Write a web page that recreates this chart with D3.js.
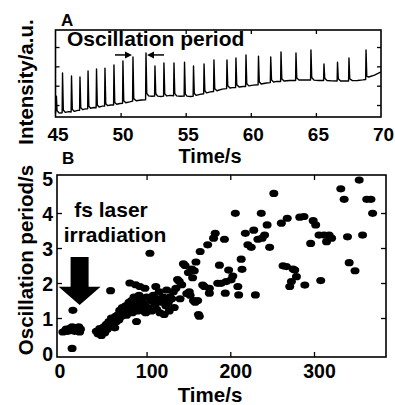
<!DOCTYPE html>
<html>
<head>
<meta charset="utf-8">
<script src="https://cdn.jsdelivr.net/npm/d3@7"></script>
<style>
  body { margin: 0; background: #fff; }
  svg { display: block; font-family: "Liberation Sans", Arial, sans-serif; font-weight: bold; }
</style>
</head>
<body>
<script>
// Panel A: intensity trace (time in s, intensity in a.u.)
const traceT = [
  45.00, 45.07, 45.12, 45.30,
  45.51, 45.54, 45.60, 45.75, 46.00,
  46.20, 46.23, 46.29, 46.45, 46.70,
  46.85, 46.88, 46.94, 47.10, 47.30,
  47.47, 47.50, 47.56, 47.70, 47.95,
  48.12, 48.15, 48.21, 48.35, 48.60,
  48.77, 48.80, 48.86, 49.00, 49.25,
  49.46, 49.49, 49.55, 49.70, 49.95,
  50.15, 50.18, 50.24, 50.40, 50.70,
  50.92, 50.95, 51.01, 51.20, 51.60,
  51.92, 51.95, 52.01, 52.15, 52.40,
  52.61, 52.64, 52.70, 52.85, 53.10,
  53.30, 53.33, 53.39, 53.55, 53.80,
  54.07, 54.10, 54.16, 54.30, 54.60,
  54.88, 54.91, 54.97, 55.10, 55.35,
  55.57, 55.60, 55.66, 55.80, 56.10,
  56.38, 56.41, 56.47, 56.60, 56.90,
  57.14, 57.17, 57.23, 57.40, 57.80,
  58.14, 58.17, 58.23, 58.40, 58.60,
  58.83, 58.86, 58.92, 59.10, 59.40,
  59.60, 59.63, 59.69, 59.85, 60.20,
  60.56, 60.59, 60.65, 60.80, 61.20,
  61.50, 61.53, 61.59, 61.75, 62.00,
  62.29, 62.32, 62.38, 62.55, 63.00,
  63.44, 63.47, 63.53, 63.70, 64.10,
  64.59, 64.62, 64.68, 64.85, 65.20,
  65.59, 65.62, 65.68, 65.85, 66.20,
  66.63, 66.66, 66.72, 66.90, 67.20,
  67.51, 67.54, 67.60, 67.80, 68.20, 68.60,
  68.82, 68.85, 68.91, 69.05, 69.50, 70.00
];
const traceV = [
  -0.42, 0.45, -0.30, -0.42,
  -0.40, 1.66, -0.26, -0.38, -0.34,
  -0.36, 1.50, -0.22, -0.33, -0.28,
  -0.27, 1.45, -0.14, -0.24, -0.20,
  -0.19, 1.76, -0.06, -0.17, -0.13,
  -0.14, 1.86, 0.00, -0.10, -0.06,
  -0.06, 1.91, 0.07, -0.03, 0.00,
  0.00, 2.07, 0.13, 0.04, 0.08,
  0.09, 2.28, 0.22, 0.12, 0.16,
  0.20, 2.48, 0.33, 0.22, 0.26,
  0.27, 2.69, 0.60, 0.47, 0.45,
  0.46, 2.02, 0.58, 0.46, 0.44,
  0.46, 2.17, 0.58, 0.47, 0.50,
  0.48, 2.17, 0.60, 0.47, 0.45,
  0.46, 2.22, 0.58, 0.46, 0.44,
  0.45, 2.02, 0.60, 0.50, 0.55,
  0.58, 2.12, 0.74, 0.63, 0.68,
  0.70, 2.33, 0.84, 0.74, 0.82,
  0.85, 2.33, 1.00, 0.88, 0.90,
  0.90, 2.43, 1.05, 0.93, 0.96,
  0.96, 2.59, 1.10, 0.99, 1.03,
  1.05, 2.53, 1.20, 1.09, 1.14,
  1.16, 2.48, 1.30, 1.19, 1.22,
  1.22, 2.74, 1.36, 1.24, 1.27,
  1.27, 2.69, 1.40, 1.29, 1.30,
  1.29, 2.85, 1.42, 1.29, 1.27,
  1.27, 2.12, 1.38, 1.27, 1.25,
  1.24, 2.22, 1.36, 1.24, 1.25,
  1.24, 2.43, 1.36, 1.26, 1.27, 1.30,
  1.32, 2.85, 1.48, 1.45, 1.55, 1.71
];
const xTicksA = [45, 50, 55, 60, 65, 70];
const yTicksA = [0, 1, 2, 3];
// the two peaks marked "Oscillation period"
const markedPeaks = [50.95, 51.95];

// Panel B: oscillation period (s) against time (s)
const periodT = [
  0, 2, 4, 6, 8, 10, 11, 13, 14, 16, 18, 19, 21, 20, 12, 11,
  40, 42, 44, 46, 47, 49, 50, 52, 53, 55, 56, 57, 58, 59, 61, 62, 63, 64,
  66, 67, 68, 70, 71, 72, 74, 75, 76, 78, 79, 80, 81, 82, 83, 85, 86, 87, 88, 89,
  90, 91, 92, 93, 94, 96, 97, 98, 99, 100,
  102, 104, 105, 106, 108, 110, 111, 112, 114, 115, 116, 118, 120, 121, 123, 124,
  126, 127, 128, 130, 132, 133, 135, 137, 139, 140, 142, 144, 146, 148, 150, 151,
  152, 154, 155, 156, 157, 158, 159, 161, 162, 163, 164,
  167, 169, 173, 175, 175, 180, 182, 185, 187, 189, 193, 194, 195, 198, 201, 203,
  206, 209, 210, 213, 214, 218, 221, 225, 228, 230, 233, 237, 238, 241, 244, 247,
  252, 261, 263, 267, 268, 271, 273, 275, 277, 279, 283, 288, 289, 296, 299, 302,
  306, 308, 312, 315, 318, 321, 332, 336, 340, 342, 349, 354, 358, 363, 368, 370
];
const periodV = [
  0.60, 0.62, 0.68, 0.62, 0.70, 0.65, 0.75, 0.70, 0.62, 0.72, 0.65, 0.75, 0.68, 0.60, 1.22, 0.13,
  0.62, 0.55, 0.70, 0.50, 0.62, 0.75, 0.58, 0.82, 0.68, 0.90, 0.78, 1.78, 1.00, 0.85, 0.95, 0.72, 1.05, 0.90,
  1.10, 0.95, 1.22, 1.05, 1.30, 1.15, 1.20, 1.35, 1.08, 1.25, 1.45, 2.00, 1.30, 1.50, 1.15, 1.60, 1.35, 1.95, 0.90, 1.20,
  1.45, 1.65, 1.90, 1.30, 1.50, 1.20, 1.40, 1.85, 1.15, 1.60,
  1.30, 2.85, 1.50, 1.20, 1.65, 1.40, 1.90, 1.25, 1.55, 1.75, 1.15, 1.45, 1.60, 1.10, 1.35, 1.80,
  1.45, 1.20, 1.60, 1.55, 1.75, 1.30, 1.85, 2.10, 2.05, 1.55, 1.95, 2.55, 2.50, 1.70, 2.30, 1.75,
  1.65, 2.40, 2.15, 1.50, 2.35, 1.45, 2.60, 1.50, 1.10, 1.05, 2.90,
  1.94, 1.90, 3.09, 1.85, 1.71, 3.28, 3.42, 1.99, 2.51, 1.99, 3.25, 1.71, 2.04, 2.37, 2.09, 2.20,
  3.99, 1.90, 1.66, 2.68, 2.39, 3.42, 3.09, 3.02, 3.51, 1.66, 3.25, 3.99, 3.28, 3.37, 3.66, 3.02,
  4.56, 3.71, 2.49, 2.47, 3.85, 1.90, 2.04, 2.40, 2.37, 2.18, 3.88, 3.90, 1.94, 3.13, 3.78, 3.66,
  3.37, 2.07, 3.37, 3.18, 3.37, 3.28, 4.69, 4.39, 3.32, 2.58, 2.35, 4.94, 3.37, 4.39, 4.39, 3.99
];
const xTicksB = [0, 100, 200, 300];
const yTicksB = [0, 1, 2, 3, 4, 5];
const laserTime = 20;

const W = 395, H = 405;
const svg = d3.select('body').append('svg')
    .attr('width', W)
    .attr('height', H);

// ---------- panel A ----------
const xA = d3.scaleLinear().domain([45, 70]).range([55.5, 381]);
const yA = d3.scaleLinear().domain([-0.62, 3.88]).range([117, 30]);

const gA = svg.append('g');

function frameAxes(g, x, y, xt, yt, tickLen) {
    const [x0, x1] = x.range();
    const [y0, y1] = y.range();
    // inward ticks on all four sides
    g.append('g').attr('transform', `translate(0,${y0})`)
        .call(d3.axisTop(x).tickValues(xt).tickSize(tickLen).tickFormat(''));
    g.append('g').attr('transform', `translate(0,${y1})`)
        .call(d3.axisBottom(x).tickValues(xt).tickSize(tickLen).tickFormat(''));
    g.append('g').attr('transform', `translate(${x0},0)`)
        .call(d3.axisRight(y).tickValues(yt).tickSize(tickLen).tickFormat(''));
    g.append('g').attr('transform', `translate(${x1},0)`)
        .call(d3.axisLeft(y).tickValues(yt).tickSize(tickLen).tickFormat(''));
    g.selectAll('.domain').remove();
    g.selectAll('.tick line').attr('stroke', '#000').attr('stroke-width', 1.3);
    g.append('rect')
        .attr('x', x0).attr('y', y1)
        .attr('width', x1 - x0).attr('height', y0 - y1)
        .attr('fill', 'none').attr('stroke', '#000').attr('stroke-width', 1.6);
}

const line = d3.line()
    .x((d, i) => xA(traceT[i]))
    .y(d => yA(d));

gA.append('path')
    .datum(traceV)
    .attr('d', line)
    .attr('fill', 'none')
    .attr('stroke', '#000')
    .attr('stroke-width', 1.4)
    .attr('stroke-linejoin', 'round');

frameAxes(gA, xA, yA, xTicksA.slice(1, -1), yTicksA, 4);

// x tick labels
gA.selectAll('.xlab')
    .data(xTicksA)
    .join('text')
    .attr('x', d => xA(d) + 2.5)
    .attr('y', 141)
    .attr('text-anchor', 'middle')
    .attr('font-size', 19)
    .text(d => d);

gA.append('text')
    .attr('x', 61).attr('y', 26)
    .attr('font-size', 17)
    .text('A');

gA.append('text')
    .attr('x', 210).attr('y', 163)
    .attr('text-anchor', 'middle')
    .attr('font-size', 20)
    .text('Time/s');

gA.append('text')
    .attr('transform', 'translate(33,82) rotate(-90)')
    .attr('text-anchor', 'middle')
    .attr('font-size', 20.5)
    .text('Intensity/a.u.');

gA.append('text')
    .attr('x', 67).attr('y', 46)
    .attr('font-size', 21)
    .text('Oscillation period');

// arrows pointing at the two marked peaks
const arrowY = yA(2.59);
function hArrow(g, tipX, dir) {
    const tail = tipX - dir * 17;
    g.append('line')
        .attr('x1', tail).attr('x2', tipX - dir * 6)
        .attr('y1', arrowY).attr('y2', arrowY)
        .attr('stroke', '#000').attr('stroke-width', 1.5);
    g.append('path')
        .attr('d', `M${tipX},${arrowY} L${tipX - dir * 7},${arrowY - 3.5} L${tipX - dir * 7},${arrowY + 3.5} Z`)
        .attr('fill', '#000');
}
hArrow(gA, xA(markedPeaks[0]) - 1, 1);
hArrow(gA, xA(markedPeaks[1]) + 1, -1);

// ---------- panel B ----------
const xB = d3.scaleLinear().domain([-7, 386]).range([57, 386]);
const yB = d3.scaleLinear().domain([-0.114, 5.086]).range([357, 175]);

const gB = svg.append('g');

gB.selectAll('ellipse')
    .data(periodV)
    .join('ellipse')
    .attr('cx', (d, i) => xB(periodT[i]))
    .attr('cy', d => yB(d))
    .attr('rx', 4.5)
    .attr('ry', 3.6)
    .attr('fill', '#000');

frameAxes(gB, xB, yB, xTicksB.slice(1), yTicksB.slice(1, -1), 5);

gB.selectAll('.xlab')
    .data(xTicksB)
    .join('text')
    .attr('x', d => xB(d) + (d === 0 ? -3 : 5.5))
    .attr('y', 378)
    .attr('text-anchor', 'middle')
    .attr('font-size', 19.5)
    .text(d => d);

gB.selectAll('.ylab')
    .data(yTicksB)
    .join('text')
    .attr('x', 53)
    .attr('y', d => yB(d) + 8)
    .attr('text-anchor', 'end')
    .attr('font-size', 19.5)
    .text(d => d);

gB.append('text')
    .attr('x', 62).attr('y', 164)
    .attr('font-size', 17)
    .text('B');

gB.append('text')
    .attr('x', 210).attr('y', 402)
    .attr('text-anchor', 'middle')
    .attr('font-size', 20.5)
    .text('Time/s');

gB.append('text')
    .attr('transform', 'translate(33,260) rotate(-90)')
    .attr('text-anchor', 'middle')
    .attr('font-size', 20.5)
    .text('Oscillation period/s');

gB.append('text')
    .attr('x', 111).attr('y', 217)
    .attr('text-anchor', 'middle')
    .attr('font-size', 21)
    .text('fs laser');

gB.append('text')
    .attr('x', 115).attr('y', 242)
    .attr('text-anchor', 'middle')
    .attr('font-size', 21)
    .text('irradiation');

// big down arrow marking the irradiation moment
const ax = xB(laserTime);
const aTop = yB(2.74), aNeck = yB(1.89), aTip = yB(1.37);
gB.append('path')
    .attr('d', `M${ax - 9},${aTop} L${ax + 9},${aTop} L${ax + 9},${aNeck} L${ax + 21},${aNeck}
                L${ax},${aTip} L${ax - 21},${aNeck} L${ax - 9},${aNeck} Z`)
    .attr('fill', '#000');
</script>
</body>
</html>
